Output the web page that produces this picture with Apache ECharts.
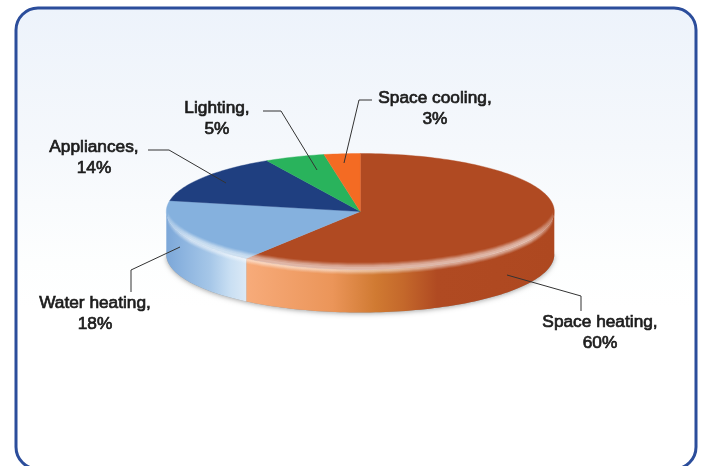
<!DOCTYPE html>
<html>
<head>
<meta charset="utf-8">
<style>html,body{margin:0;padding:0;background:#fff}#chart{width:702px;height:466px;filter:blur(0.5px)}</style>
<script src="https://cdn.jsdelivr.net/npm/echarts@6/dist/echarts.min.js"></script>
</head>
<body>
<div id="chart"></div>
<script>
// Data
const categories = ['Space heating', 'Water heating', 'Appliances', 'Lighting', 'Space cooling'];
const values = [60, 18, 14, 5, 3];

// Styles
const topColors = ['#B04A22', '#85B1DE', '#1F3F80', '#29B35C', '#F46B23'];
const wallStops = [
  [[0,'#F7AB7A'],[0.28,'#EB9559'],[0.42,'#D07A32'],[0.51,'#C4682B'],[0.62,'#B04A22'],[1,'#AE4820']],
  [[0,'#7CA7D8'],[0.2,'#8BB3DF'],[0.55,'#A6C7E8'],[0.8,'#C9DFF3'],[1,'#DBE9F6']],
  null, null, null
];

// Layout
const pie = { cx: 360.3, cy: 211.5, rx: 194, ry: 58, depth: 43 };
const labelLayout = [
  { x: 600, y: 333, line: [[507,275],[581,296],[581,311]] },
  { x: 95,  y: 314, line: [[180,247],[131,270],[131,292]] },
  { x: 94,  y: 158, line: [[226,183],[169,150],[148,150]] },
  { x: 217, y: 119, line: [[317,170],[281,111],[263,111]] },
  { x: 435, y: 109, line: [[344,163],[359,100],[372,100]] }
];

const total = values.reduce((a, b) => a + b, 0);
const rad = d => d * Math.PI / 180;
const px = t => pie.cx + pie.rx * Math.sin(rad(t));
const py = t => pie.cy - pie.ry * Math.cos(rad(t));
function arc(a, b, dy) {
  const pts = [], n = Math.max(2, Math.ceil(Math.abs(b - a) / 1.5));
  for (let i = 0; i <= n; i++) {
    const t = a + (b - a) * i / n;
    pts.push([px(t), py(t) + dy]);
  }
  return pts;
}
function startAngle(i) {
  let s = 0;
  for (let k = 0; k < i; k++) s += values[k];
  return s / total * 360;
}

function renderSlice(params, api) {
  const i = params.dataIndex;
  const a = startAngle(i);
  const b = a + api.value(0) / total * 360;
  const children = [];
  if (i === 0) {
    children.push({
      type: 'polygon',
      shape: { points: arc(90, 270, pie.depth) },
      style: { fill: '#999', shadowBlur: 5, shadowColor: 'rgba(0,0,0,0.35)', shadowOffsetY: 1 }
    });
  }
  // front wall, clipped to the visible half
  const wa = Math.max(a, 90), wb = Math.min(b, 270);
  if (wb > wa && wallStops[i]) {
    const up = arc(wa, wb, 0);
    const low = arc(wb, wa, pie.depth);
    const xs = up.map(p => p[0]);
    const x0 = Math.min.apply(null, xs), x1 = Math.max.apply(null, xs);
    const stops = wallStops[i].map(s => ({ offset: s[0], color: s[1] }));
    children.push({
      type: 'polygon',
      shape: { points: up.concat(low) },
      style: { fill: new echarts.graphic.LinearGradient(x0, 0, x1, 0, stops, true) }
    });
  }
  // top surface
  children.push({
    type: 'polygon',
    shape: { points: [[pie.cx, pie.cy]].concat(arc(a, b, 0)) },
    style: { fill: topColors[i], stroke: topColors[i], lineWidth: 0.4 }
  });
  return { type: 'group', children: children };
}

function band(a, b, d0, d1, alpha) {
  const fade = (v) => 'rgba(255,255,255,' + v + ')';
  const xa = px(b), xb = px(a);
  return {
    type: 'polygon',
    shape: { points: arc(a, b, d0).concat(arc(b, a, d1)) },
    style: {
      fill: new echarts.graphic.LinearGradient(xa, 0, xb, 0, [
        { offset: 0, color: fade(alpha * 0.35) },
        { offset: 0.06, color: fade(alpha) },
        { offset: 0.94, color: fade(alpha) },
        { offset: 1, color: fade(alpha * 0.35) }
      ], true)
    }
  };
}

function renderBevel() {
  return {
    type: 'group',
    children: [
      band(97, 263, -7, 5, 0.1),
      band(97, 263, -6, 4, 0.14),
      band(97, 263, -5, 3, 0.18),
      band(97, 263, -4, 2, 0.2),
      band(97, 263, -2.5, 0.5, 0.2)
    ]
  };
}

const graphics = [{
  type: 'rect',
  z: -10,
  shape: { x: 16, y: 8, width: 680, height: 461, r: 22 },
  style: {
    stroke: '#2B4D9B',
    lineWidth: 3,
    fill: new echarts.graphic.LinearGradient(0, 8, 0, 469, [
      { offset: 0, color: '#EDF3FB' },
      { offset: 0.3, color: '#F5F8FC' },
      { offset: 0.55, color: '#FDFEFE' },
      { offset: 0.65, color: '#FFFFFF' }
    ], true)
  }
}];

categories.forEach((name, i) => {
  const l = labelLayout[i];
  graphics.push({
    type: 'polyline',
    z: 20,
    shape: { points: l.line },
    style: { stroke: '#333', lineWidth: 1, fill: null }
  });
  graphics.push({
    type: 'text',
    z: 20,
    x: l.x,
    y: l.y,
    style: {
      text: name + ',\n' + values[i] + '%',
      fill: '#1c1c1c',
      stroke: '#1c1c1c',
      lineWidth: 0.7,
      align: 'center',
      verticalAlign: 'middle',
      lineHeight: 21,
      font: '17.3px "Liberation Sans", Arial, sans-serif'
    }
  });
});

const chart = echarts.init(document.getElementById('chart'), null, { renderer: 'canvas' });
chart.setOption({
  animation: false,
  backgroundColor: '#fff',
  graphic: graphics,
  series: [
    {
      type: 'custom',
      coordinateSystem: 'none',
      z: 5,
      silent: true,
      renderItem: renderSlice,
      data: values.map((v, i) => ({ name: categories[i], value: [v] }))
    },
    {
      type: 'custom',
      coordinateSystem: 'none',
      z: 6,
      silent: true,
      renderItem: renderBevel,
      data: [[1]]
    }
  ]
});
</script>
</body>
</html>
